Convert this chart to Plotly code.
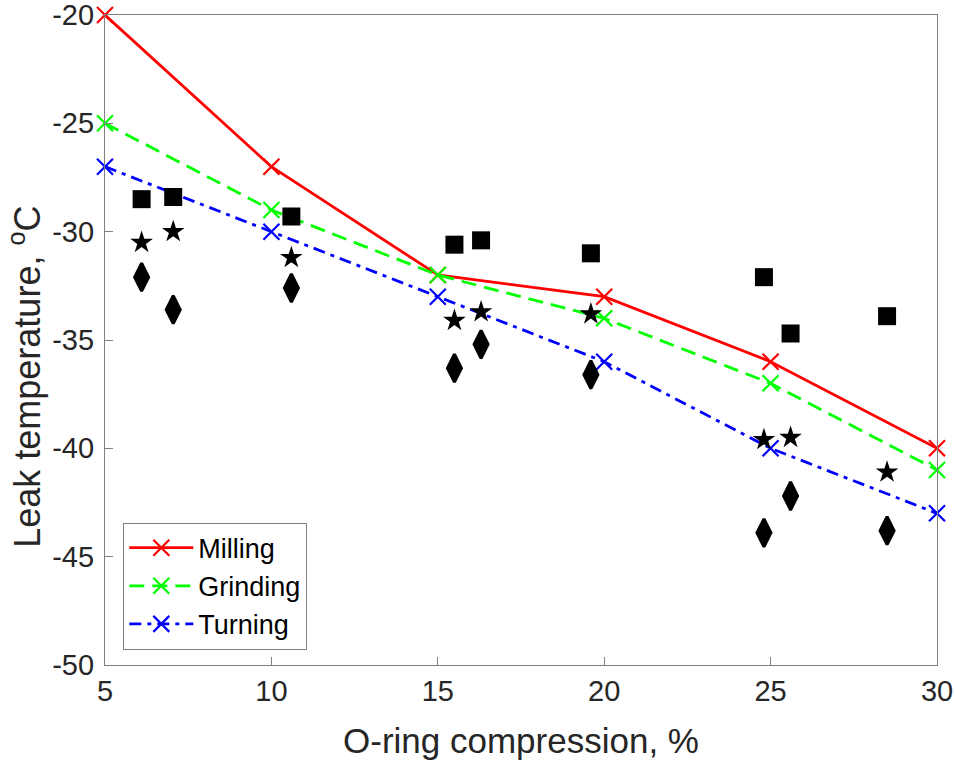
import plotly.graph_objects as go

# Line series
x_lines = [5, 10, 15, 20, 25, 30]
milling = [-20, -27, -32, -33, -36, -40]
grinding = [-25, -29, -32, -34, -37, -41]
turning = [-27, -30, -33, -36, -40, -43]

# Scatter (black markers)
x_pts = [6.1, 7.05, 10.6, 15.5, 16.3, 19.6, 24.8, 25.6, 28.5]
squares = [-28.5, -28.4, -29.3, -30.6, -30.4, -31.0, -32.1, -34.7, -33.9]
stars = [-30.5, -30.0, -31.2, -34.1, -33.7, -33.8, -39.6, -39.5, -41.1]
diamonds = [-32.1, -33.6, -32.6, -36.3, -35.2, -36.6, -43.9, -42.2, -43.8]

x_ticks = [5, 10, 15, 20, 25, 30]
y_ticks = [-50, -45, -40, -35, -30, -25, -20]

FONT = "Liberation Sans, Arial, Helvetica, sans-serif"
TXT = "#262626"

fig = go.Figure()

for name, ys, color, dash in [
    ("Milling", milling, "#ff0000", "solid"),
    ("Grinding", grinding, "#00ff00", "15px,8px"),
    ("Turning", turning, "#0000ff", "12px,6px,4px,6px"),
]:
    fig.add_trace(go.Scatter(
        x=x_lines, y=ys, name=name, mode="lines+markers",
        line=dict(color=color, width=2.8, dash=dash),
        marker=dict(symbol="x-thin", size=16, line=dict(color=color, width=2.2)),
        cliponaxis=False,
    ))

fig.add_trace(go.Scatter(
    x=x_pts, y=squares, mode="markers", showlegend=False,
    marker=dict(symbol="square", size=18, color="black"),
))
fig.add_trace(go.Scatter(
    x=x_pts, y=stars, mode="markers", showlegend=False,
    marker=dict(symbol="star", size=17, color="black"),
))
fig.add_trace(go.Scatter(
    x=x_pts, y=diamonds, mode="markers", showlegend=False,
    marker=dict(symbol="diamond-tall", size=20, color="black",
                line=dict(color="black", width=3)),
))

axis_common = dict(
    showline=True, linecolor="#808080", linewidth=1.2, mirror=True,
    ticks="inside", ticklen=8, tickcolor="#808080", tickwidth=1,
    showgrid=False, zeroline=False, automargin=False,
    ticklabeloverflow="allow",
    tickfont=dict(family=FONT, size=29, color=TXT),
)

fig.update_layout(
    width=955, height=760,
    margin=dict(l=105, r=18, t=15, b=95),
    paper_bgcolor="white", plot_bgcolor="white",
    font=dict(family=FONT, color=TXT),
    xaxis=dict(
        range=[5, 30], tickvals=x_ticks,
        title=dict(text="O-ring compression, %", font=dict(family=FONT, size=35, color=TXT), standoff=22),
        **axis_common,
    ),
    yaxis=dict(
        range=[-50, -20], tickvals=y_ticks,
        ticktext=[str(v) for v in y_ticks],
        ticklabelstandoff=4,
        **axis_common,
    ),
    annotations=[dict(
        text="Leak temperature, <sup>o</sup>C",
        xref="paper", yref="paper", x=-0.0965, y=0.443,
        xanchor="center", yanchor="middle", textangle=-90, showarrow=False,
        font=dict(family=FONT, size=36, color=TXT),
    )],
    legend=dict(
        x=0.022, y=0.219, xanchor="left", yanchor="top",
        bgcolor="white", bordercolor="#808080", borderwidth=1,
        font=dict(family=FONT, size=27, color="black"),
        itemwidth=64, tracegroupgap=2,
    ),
)

fig.write_html("out.html", config={"displayModeBar": False},
               post_script="document.body.style.margin='0';")
